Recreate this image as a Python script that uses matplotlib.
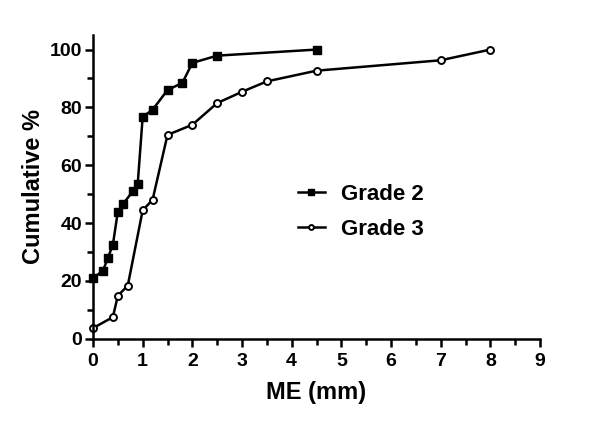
import numpy as np
import matplotlib.pyplot as plt
from matplotlib.ticker import MultipleLocator

plt.rcParams['font.family'] = ['Liberation Sans', 'DejaVu Sans']
plt.rcParams['font.weight'] = 'bold'

# Grade 2 cumulative distribution
me_g2 = [0, 0.2, 0.3, 0.4, 0.5, 0.6, 0.8, 0.9, 1.0, 1.2, 1.5, 1.8, 2.0, 2.5, 4.5]
cum_g2 = [21, 23.5, 28, 32.5, 44, 46.5, 51, 53.5, 76.7, 79.2, 86, 88.5, 95.4, 97.9, 100]

# Grade 3 cumulative distribution
me_g3 = [0, 0.4, 0.5, 0.7, 1.0, 1.2, 1.5, 2.0, 2.5, 3.0, 3.5, 4.5, 7.0, 8.0]
cum_g3 = [3.7, 7.5, 14.9, 18.4, 44.4, 48.1, 70.5, 74, 81.5, 85.4, 89, 92.7, 96.3, 100]

fig = plt.figure(figsize=(6, 4.23), dpi=100)
ax = fig.add_axes([0.155, 0.199, 0.745, 0.718])

ax.plot(me_g2, cum_g2, 'k-', marker='s', ms=6, lw=1.8, label='Grade 2', clip_on=False)
ax.plot(me_g3, cum_g3, 'k-', marker='o', ms=5, mfc='white', mew=1.4, lw=1.8,
        label='Grade 3', clip_on=False)

ax.set_xlim(0, 9)
ax.set_ylim(0, 105)
ax.xaxis.set_major_locator(MultipleLocator(1))
ax.xaxis.set_minor_locator(MultipleLocator(0.5))
ax.yaxis.set_major_locator(MultipleLocator(20))
ax.yaxis.set_minor_locator(MultipleLocator(10))
ax.spines['top'].set_visible(False)
ax.spines['right'].set_visible(False)
for s in ('left', 'bottom'):
    ax.spines[s].set_linewidth(1.8)
ax.tick_params(which='major', length=6, width=1.8, labelsize=14, pad=2)
ax.tick_params(axis='x', which='major', pad=4)
ax.tick_params(which='minor', length=4, width=1.8)
for lab in ax.get_xticklabels() + ax.get_yticklabels():
    lab.set_fontweight('bold')

ax.set_xlabel('ME (mm)', fontsize=17, fontweight='bold', labelpad=8)
ax.set_ylabel('Cumulative %', fontsize=17, fontweight='bold', labelpad=3)

ax.legend(loc='center left', bbox_to_anchor=(0.414, 0.418), frameon=False,
          handlelength=1.2, handletextpad=0.75, labelspacing=0.6, markerscale=0.7,
          prop={'weight': 'bold', 'size': 16})

fig.savefig('out.png', dpi=100)
